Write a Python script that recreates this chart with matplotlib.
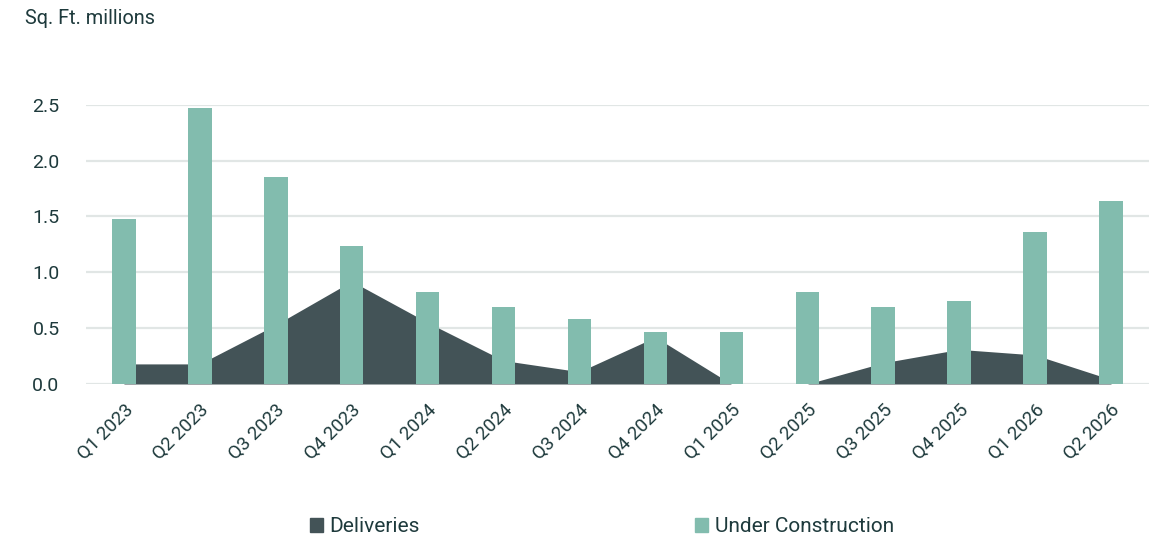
import matplotlib.pyplot as plt
import numpy as np
from matplotlib.patches import Patch

quarters = ["Q1 2023", "Q2 2023", "Q3 2023", "Q4 2023", "Q1 2024", "Q2 2024", "Q3 2024",
            "Q4 2024", "Q1 2025", "Q2 2025", "Q3 2025", "Q4 2025", "Q1 2026", "Q2 2026"]
deliveries = [0.18, 0.18, 0.53, 0.92, 0.55, 0.21, 0.11, 0.42, 0.0, 0.0, 0.19, 0.31, 0.26, 0.04]
under_construction = [1.48, 2.47, 1.85, 1.24, 0.82, 0.69, 0.58, 0.47, 0.47, 0.82, 0.69, 0.74, 1.36, 1.64]

col_deliv = "#435357"
col_uc = "#82bcae"
col_text = "#1e3a3c"
col_grid = "#e1e6e5"

plt.rcParams['font.family'] = ['Roboto', 'DejaVu Sans']

fig = plt.figure(figsize=(11.73, 5.37), dpi=100)
ax = fig.add_axes([0.0733, 0.2849, 0.9062, 0.520])

x = np.arange(len(quarters))
ax.fill_between(x, deliveries, 0, color=col_deliv, linewidth=0, zorder=2)
ax.bar(x, under_construction, width=0.31, color=col_uc, zorder=3)

ax.set_xlim(-0.5, len(quarters) - 0.5)
ax.set_ylim(0, 2.5)
ax.set_yticks([0, 0.5, 1.0, 1.5, 2.0, 2.5])
ax.set_yticklabels(["0.0", "0.5", "1.0", "1.5", "2.0", "2.5"])
ax.yaxis.grid(True, color=col_grid, linewidth=1.6, zorder=0)
ax.set_axisbelow(True)
for s in ax.spines.values():
    s.set_visible(False)
ax.tick_params(axis='both', length=0, colors=col_text, labelsize=14)
ax.tick_params(axis='y', pad=19)
ax.set_xticks(x)
ax.set_xticklabels(quarters, rotation=45, ha='right', rotation_mode='anchor')
ax.tick_params(axis='x', pad=12, labelsize=13.5)

fig.text(25 / 1173, 1 - 18 / 537, "Sq. Ft. millions", color=col_text, fontsize=14.3, va='center', ha='left')

handles = [Patch(color=col_deliv, label="Deliveries"), Patch(color=col_uc, label="Under Construction")]
leg = fig.legend(handles=handles, loc='center', bbox_to_anchor=(0.513, 1 - 527 / 537), ncol=2,
                 frameon=False, fontsize=15, handlelength=0.65, handleheight=0.65,
                 handletextpad=0.3, columnspacing=13.2)
for t in leg.get_texts():
    t.set_color(col_text)

fig.savefig("out.png", dpi=100)
